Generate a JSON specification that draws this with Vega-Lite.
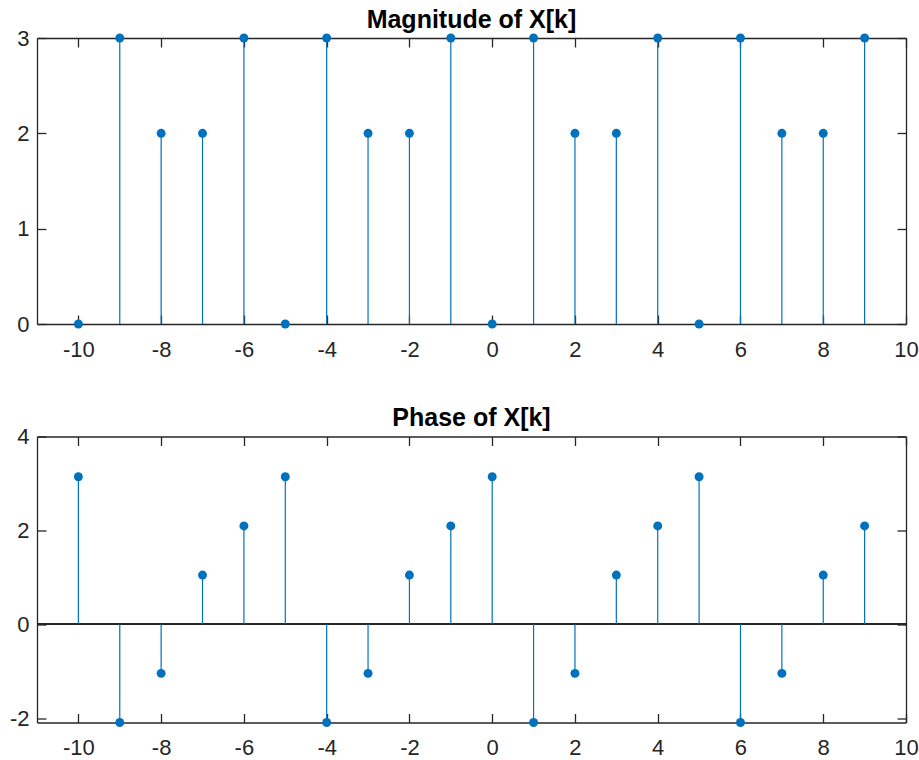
{
  "$schema": "https://vega.github.io/schema/vega-lite/v6.json",
  "background": "white",
  "padding": {"left": 9, "top": 7, "right": 1, "bottom": 1},
  "spacing": 112.5,
  "bounds": "flush",
  "data": {
    "values": [
      {"k": -10, "mag": 0, "phase": 3.14159},
      {"k": -9, "mag": 3, "phase": -2.0944},
      {"k": -8, "mag": 2, "phase": -1.0472},
      {"k": -7, "mag": 2, "phase": 1.0472},
      {"k": -6, "mag": 3, "phase": 2.0944},
      {"k": -5, "mag": 0, "phase": 3.14159},
      {"k": -4, "mag": 3, "phase": -2.0944},
      {"k": -3, "mag": 2, "phase": -1.0472},
      {"k": -2, "mag": 2, "phase": 1.0472},
      {"k": -1, "mag": 3, "phase": 2.0944},
      {"k": 0, "mag": 0, "phase": 3.14159},
      {"k": 1, "mag": 3, "phase": -2.0944},
      {"k": 2, "mag": 2, "phase": -1.0472},
      {"k": 3, "mag": 2, "phase": 1.0472},
      {"k": 4, "mag": 3, "phase": 2.0944},
      {"k": 5, "mag": 0, "phase": 3.14159},
      {"k": 6, "mag": 3, "phase": -2.0944},
      {"k": 7, "mag": 2, "phase": -1.0472},
      {"k": 8, "mag": 2, "phase": 1.0472},
      {"k": 9, "mag": 3, "phase": 2.0944}
    ]
  },
  "config": {
    "view": {"stroke": null},
    "axis": {
      "grid": false,
      "labelFont": "Liberation Sans",
      "labelFontSize": 22,
      "labelColor": "#262626",
      "domainColor": "#262626",
      "domainWidth": 1.3,
      "tickColor": "#262626",
      "tickWidth": 1.3,
      "tickSize": -9,
      "labelFlush": false,
      "labelOverlap": false,
      "labelBound": false
    },
    "title": {
      "font": "Liberation Sans",
      "fontSize": 25,
      "fontWeight": "bold",
      "color": "#000000",
      "baseline": "alphabetic",
      "offset": -5.5,
      "frame": "group",
      "anchor": "middle"
    }
  },
  "vconcat": [
    {
      "width": 869,
      "height": 286,
      "title": "Magnitude of X[k]",
      "resolve": {"axis": {"x": "independent", "y": "independent"}},
      "layer": [
        {
          "mark": {"type": "rule", "color": "#0072BD", "strokeWidth": 1.2},
          "encoding": {
            "x": {"field": "k", "type": "quantitative", "scale": {"domain": [-11, 10], "nice": false, "zero": false},
              "axis": {"orient": "bottom", "title": null, "values": [-10, -8, -6, -4, -2, 0, 2, 4, 6, 8, 10], "labelPadding": 24, "labelExpr": "replace(datum.label, '\u2212', '-')"}},
            "y": {"field": "mag", "type": "quantitative", "scale": {"domain": [0, 3], "nice": false, "zero": false},
              "axis": {"orient": "left", "title": null, "values": [0, 1, 2, 3], "labelPadding": 17, "labelExpr": "replace(datum.label, '\u2212', '-')"}},
            "y2": {"datum": 0}
          }
        },
        {
          "mark": {"type": "point", "filled": true, "color": "#0072BD", "size": 80, "opacity": 1},
          "encoding": {
            "x": {"field": "k", "type": "quantitative",
              "axis": {"orient": "top", "title": null, "labels": false, "values": [-10, -8, -6, -4, -2, 0, 2, 4, 6, 8, 10]}},
            "y": {"field": "mag", "type": "quantitative",
              "axis": {"orient": "right", "title": null, "labels": false, "values": [0, 1, 2, 3]}}
          }
        }
      ]
    },
    {
      "width": 869,
      "height": 286,
      "title": "Phase of X[k]",
      "resolve": {"axis": {"x": "independent", "y": "independent"}},
      "layer": [
        {
          "mark": {"type": "rule", "color": "#262626", "strokeWidth": 1.3},
          "encoding": {
            "y": {"datum": 0, "type": "quantitative", "axis": null}
          }
        },
        {
          "mark": {"type": "rule", "color": "#0072BD", "strokeWidth": 1.2},
          "encoding": {
            "x": {"field": "k", "type": "quantitative", "scale": {"domain": [-11, 10], "nice": false, "zero": false},
              "axis": {"orient": "bottom", "title": null, "values": [-10, -8, -6, -4, -2, 0, 2, 4, 6, 8, 10], "labelPadding": 24, "labelExpr": "replace(datum.label, '\u2212', '-')"}},
            "y": {"field": "phase", "type": "quantitative", "scale": {"domain": [-2.0944, 4], "nice": false, "zero": false},
              "axis": {"orient": "left", "title": null, "values": [-2, 0, 2, 4], "labelPadding": 17, "labelExpr": "replace(datum.label, '\u2212', '-')"}},
            "y2": {"datum": 0}
          }
        },
        {
          "mark": {"type": "point", "filled": true, "color": "#0072BD", "size": 80, "opacity": 1},
          "encoding": {
            "x": {"field": "k", "type": "quantitative",
              "axis": {"orient": "top", "title": null, "labels": false, "values": [-10, -8, -6, -4, -2, 0, 2, 4, 6, 8, 10]}},
            "y": {"field": "phase", "type": "quantitative",
              "axis": {"orient": "right", "title": null, "labels": false, "values": [-2, 0, 2, 4]}}
          }
        }
      ]
    }
  ]
}
